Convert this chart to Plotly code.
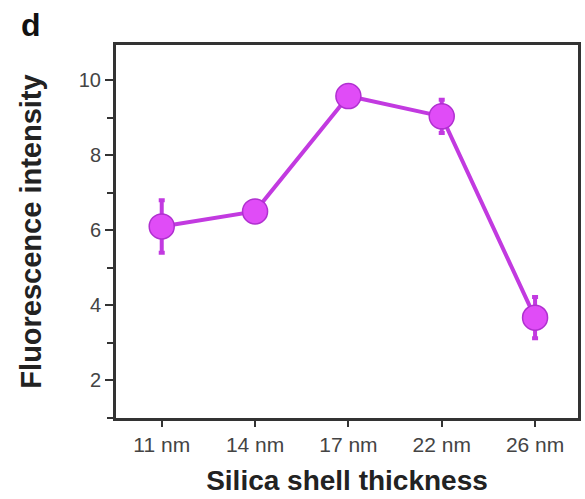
import plotly.graph_objects as go

# Fluorescence intensity vs. silica shell thickness
thickness = ["11 nm", "14 nm", "17 nm", "22 nm", "26 nm"]
intensity = [6.1, 6.5, 9.57, 9.03, 3.67]
intensity_err = [0.7, 0.15, 0.15, 0.44, 0.55]

line_color = "#c23ae0"
marker_color = "#e04cf7"
axis_color = "#333333"
font_family = "Liberation Sans, Arial, sans-serif"

fig = go.Figure()
fig.add_trace(go.Scatter(
    x=thickness,
    y=intensity,
    mode="lines+markers",
    line=dict(color=line_color, width=4),
    marker=dict(size=25, color=marker_color, line=dict(color="#b030d0", width=1.5)),
    error_y=dict(type="data", array=intensity_err, visible=True,
                 color=line_color, thickness=4, width=3),
    showlegend=False,
))

fig.update_layout(
    width=585, height=499,
    margin=dict(l=116, r=4, t=45, b=81),
    paper_bgcolor="white",
    plot_bgcolor="white",
    font=dict(family=font_family, color="#444444"),
    annotations=[dict(text="<b>d</b>", x=-0.183, y=1.053, xref="paper", yref="paper",
                      xanchor="center", yanchor="middle", showarrow=False,
                      font=dict(size=32, color="#111111", family=font_family))],
)

fig.update_xaxes(
    range=[-0.49, 4.46],
    showline=True, linecolor=axis_color, linewidth=3, mirror=True,
    ticks="outside", ticklen=6, tickwidth=2, tickcolor=axis_color,
    tickfont=dict(size=21, color="#444444"),
    showgrid=False, zeroline=False,
    title=dict(text="<b>Silica shell thickness</b>", font=dict(size=28, color="#222222"), standoff=16),
)
fig.update_yaxes(
    range=[1.0, 10.93],
    tickvals=[2, 4, 6, 8, 10],
    showline=True, linecolor=axis_color, linewidth=3, mirror=True,
    ticks="outside", ticklen=8, tickwidth=2, tickcolor=axis_color,
    minor=dict(tickvals=[1, 3, 5, 7, 9], ticks="outside", ticklen=6, tickwidth=2, tickcolor=axis_color),
    tickfont=dict(size=20, color="#444444"),
    showgrid=False, zeroline=False,
    title=dict(text="<b>Fluorescence intensity</b>", font=dict(size=29, color="#222222"), standoff=29),
)

fig.write_html("out.html")
